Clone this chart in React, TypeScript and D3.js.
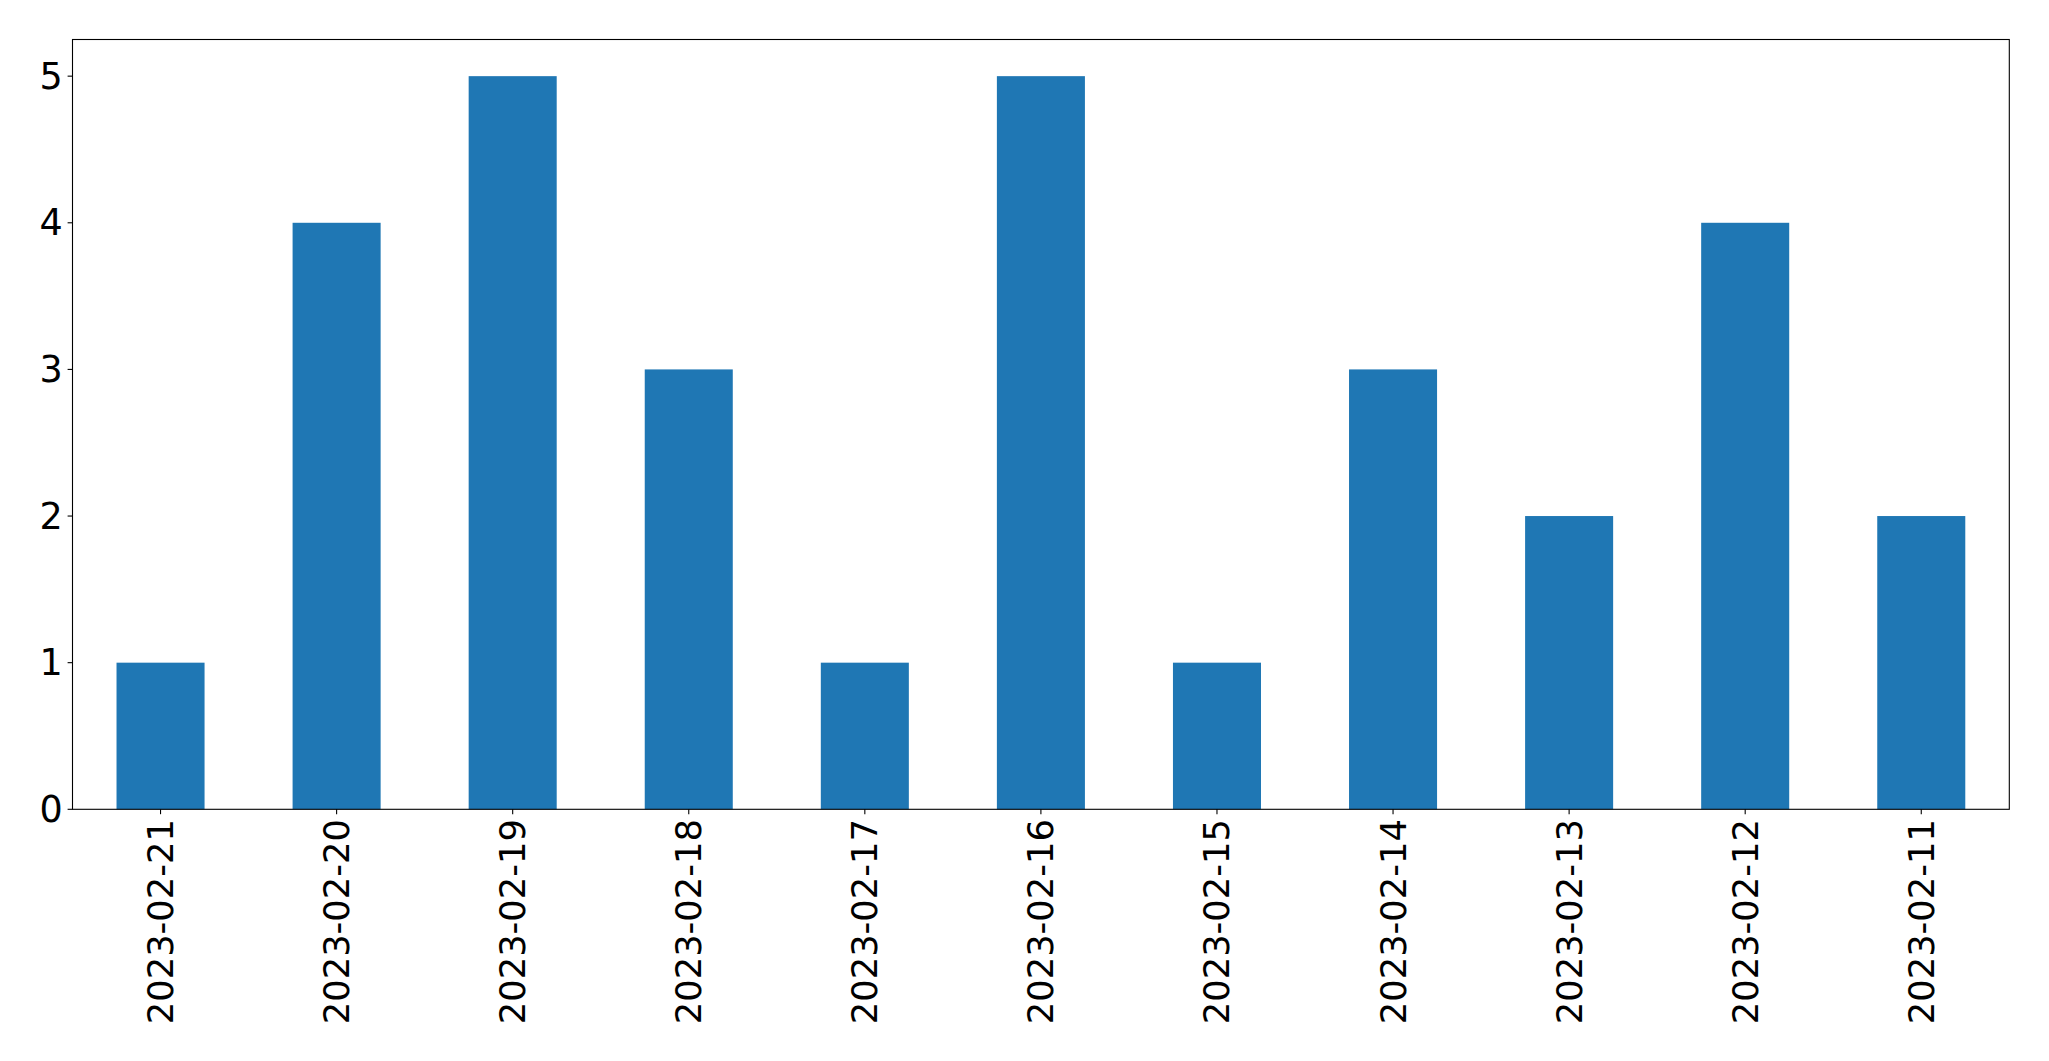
import React from "react";
import * as d3 from "d3";

const categories = ["2023-02-21","2023-02-20","2023-02-19","2023-02-18","2023-02-17","2023-02-16","2023-02-15","2023-02-14","2023-02-13","2023-02-12","2023-02-11"];
const values = [1,4,5,3,1,5,1,3,2,4,2];
const yTicks = [0,1,2,3,4,5];

const W = 2049, H = 1061;
const left = 72.5, right = 2009.3, top = 39.5, bottom = 809.3;
const FSX = 35.3;
const FSY = 36.5;
const font = "DejaVu Sans, sans-serif";

export default function App() {
  const x = d3.scaleLinear().domain([-0.5, categories.length - 0.5]).range([left, right]);
  const y = d3.scaleLinear().domain([0, 5.25]).range([bottom, top]);
  const bw = 0.5;
  return (
    <svg width={W} height={H} style={{ position: "absolute", left: 0, top: 0 }}>
      <rect x={0} y={0} width={W} height={H} fill="#fff" />
      {values.map((v, i) => (
        <rect key={i} x={x(i - bw / 2)} y={y(v)} width={x(i + bw / 2) - x(i - bw / 2)} height={y(0) - y(v)} fill="#1f77b4" />
      ))}
      <rect x={left} y={top} width={right - left} height={bottom - top} fill="none" stroke="#000" strokeWidth={1.1} />
      {yTicks.map(t => (
        <g key={t}>
          <line x1={left - 4.9} x2={left} y1={y(t)} y2={y(t)} stroke="#000" strokeWidth={1.1} />
          <text x={left - 4.9 - 4.9} y={y(t)} textAnchor="end" dominantBaseline="central" fontFamily={font} fontSize={FSY} fill="#000">{t}</text>
        </g>
      ))}
      {categories.map((c, i) => (
        <g key={c}>
          <line x1={x(i)} x2={x(i)} y1={bottom} y2={bottom + 4.9} stroke="#000" strokeWidth={1.1} />
          <text transform={`translate(${x(i)},${bottom + 4.9 + 4.9}) rotate(-90)`} textAnchor="end" dominantBaseline="central" fontFamily={font} fontSize={FSX} fill="#000">{c}</text>
        </g>
      ))}
    </svg>
  );
}
